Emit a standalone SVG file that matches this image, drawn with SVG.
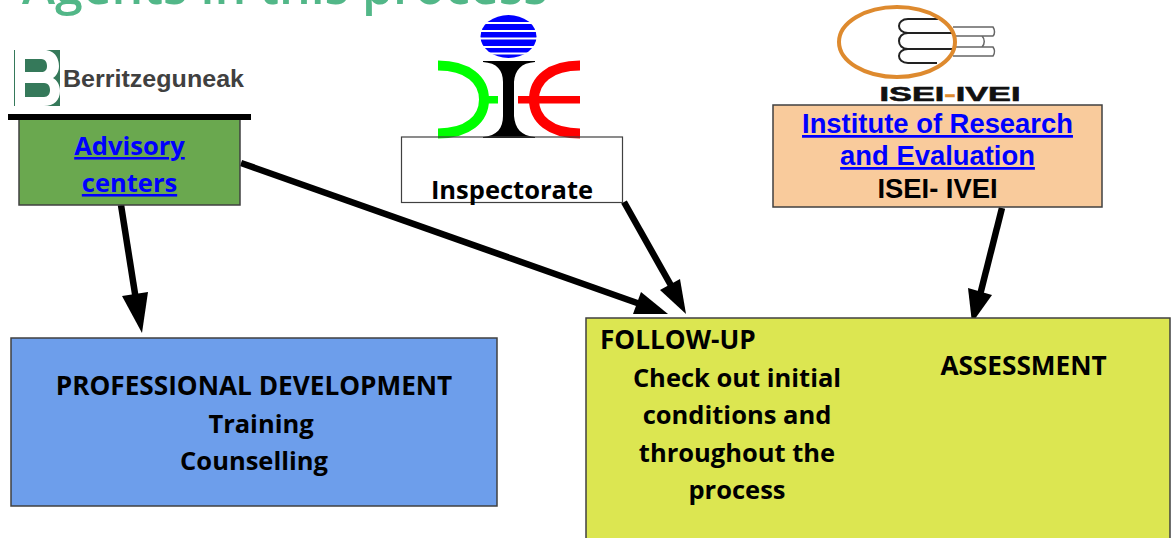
<svg xmlns="http://www.w3.org/2000/svg" width="1172" height="538" viewBox="0 0 1172 538">
<style>
.t{font-family:"Open Sans","Noto Sans",sans-serif;font-weight:700;font-size:25.500px;fill:#000;text-anchor:middle}
.u{font-size:26.200px}
.a{font-family:"Liberation Sans",Arial,sans-serif;font-weight:700;font-size:27.400px;text-anchor:middle}
.l{fill:#0000ff;text-decoration:underline}
.box{stroke:#404040;stroke-width:1.5}
.c{stroke:#000;stroke-width:6.500;fill:none}
.h{fill:#000;stroke:none}
</style>
<rect width="1172" height="538" fill="#fff"/>
<text id="title" x="22" y="4" font-family="'Open Sans','Noto Sans',sans-serif" font-weight="600" font-size="50" fill="#52b788">Agents in this process</text>
<g id="logo-berritzeguneak">
<rect x="14" y="50" width="46" height="56" fill="#35795a"/>
<path d="M15 50H44C56 50 59 60 59 66C59 72 56 76 53 78C57 80 60 85 60 91C60 100 54 106 44 106H15Z" fill="#fff"/>
<path d="M25 59H41C46 59 47 63 47 66C47 70 45 72 41 72H25ZM25 83H44C49 83 50 87 50 90C50 94 48 97 44 97H25Z" fill="#35795a"/>
<text x="63" y="87" font-family="'Liberation Sans',Arial,sans-serif" font-weight="700" font-size="23" fill="#404040" textLength="181" lengthAdjust="spacingAndGlyphs">Berritzeguneak</text>
</g>
<g id="logo-inspectorate">
<ellipse cx="508.500" cy="36.500" rx="28" ry="21.500" fill="#0000ff"/>
<g stroke="#fff" stroke-width="2"><path d="M478 23H539M478 31H539M478 38.500H539M478 47H539M478 53.500H539"/></g>
<path d="M483 61H535V62C521 63 515 70 514 82V116C515 128 521 136 535 137V138H483V137C497 136 503 128 503 116V82C503 70 497 63 483 62Z" fill="#000"/>
<path d="M438 65.500C468 65.500 484 80 484 99.500C484 119 468 133.500 438 133.500" fill="none" stroke="#00ff00" stroke-width="10"/>
<rect x="486" y="96" width="12" height="7.500" fill="#00ff00"/>
<path d="M580 65.500C550 65.500 534 80 534 99.500C534 119 550 133.500 580 133.500" fill="none" stroke="#ff0000" stroke-width="10"/>
<rect x="518" y="96" width="62" height="7.500" fill="#ff0000"/>
</g>
<g id="logo-isei">
<g fill="none" stroke="#222" stroke-width="2">
<path d="M938 19H908C896 19 896 33 908 33H952M908 33C896 33 896 49 908 49H952M908 49C896 49 896 63 908 63H937"/>
</g>
<g fill="none" stroke="#666" stroke-width="1.500">
<path d="M953 27H993C995 30 995 34 993 36H954M953 47H993C995 50 995 53 993 56H953M982 36C985 39 985 44 982 47"/>
</g>
<ellipse cx="897" cy="42" rx="58" ry="35" fill="none" stroke="#de8a2e" stroke-width="4"/>
<text x="950" y="101" font-family="'Liberation Sans',Arial,sans-serif" font-weight="700" font-size="21" fill="#111" text-anchor="middle" textLength="141" lengthAdjust="spacingAndGlyphs" stroke="#111" stroke-width=".6">ISEI<tspan fill="#de8a2e" stroke="#de8a2e">-</tspan>IVEI</text>
</g>
<g id="connectors">
<path class="c" d="M121 205L136 300"/><path class="h" d="M142 333L122 296L148 292Z"/>
<path class="c" d="M241 163L640 304"/><path class="h" d="M668 314H633L641 292Z"/>
<path class="c" d="M624 202L673 289"/><path class="h" d="M686 314L660 290L680 279Z"/>
<path class="c" d="M1002 208L980 295"/><path class="h" d="M972 323L968 288L992 295Z"/>
</g>
<g id="advisory">
<rect class="box" x="19" y="119" width="221" height="86" fill="#6aa84f"/>
<rect x="8" y="114" width="243" height="6" fill="#000"/>
<text class="t l" x="129.500" y="155">Advisory</text>
<text class="t l" x="129.500" y="192">centers</text>
</g>
<g id="inspectorate">
<rect x="401.500" y="137" width="221" height="65.500" fill="none" stroke="#404040" stroke-width="1.200"/>
<text class="t" x="512" y="198.500">Inspectorate</text>
</g>
<g id="isei">
<rect class="box" x="773" y="105" width="329" height="102" fill="#f9cb9c"/>
<text class="a l" x="937.500" y="133">Institute of Research</text>
<text class="a l" x="937.500" y="165">and Evaluation</text>
<text class="a" x="937.500" y="198" fill="#000">ISEI- IVEI</text>
</g>
<g id="professional">
<rect class="box" x="11" y="338" width="486" height="168" fill="#6d9eeb"/>
<text class="t u" x="254" y="395">PROFESSIONAL DEVELOPMENT</text>
<text class="t" x="261" y="433">Training</text>
<text class="t" x="254" y="470">Counselling</text>
</g>
<g id="follow">
<rect class="box" x="586" y="318" width="584" height="230" fill="#dce651"/>
<text class="t u" x="600" y="349" style="text-anchor:start">FOLLOW-UP</text>
<text class="t" x="737" y="387">Check out initial</text>
<text class="t" x="737" y="424">conditions and</text>
<text class="t" x="737" y="462">throughout the</text>
<text class="t" x="737" y="499">process</text>
<text class="t u" x="1023.500" y="375">ASSESSMENT</text>
</g>
</svg>
